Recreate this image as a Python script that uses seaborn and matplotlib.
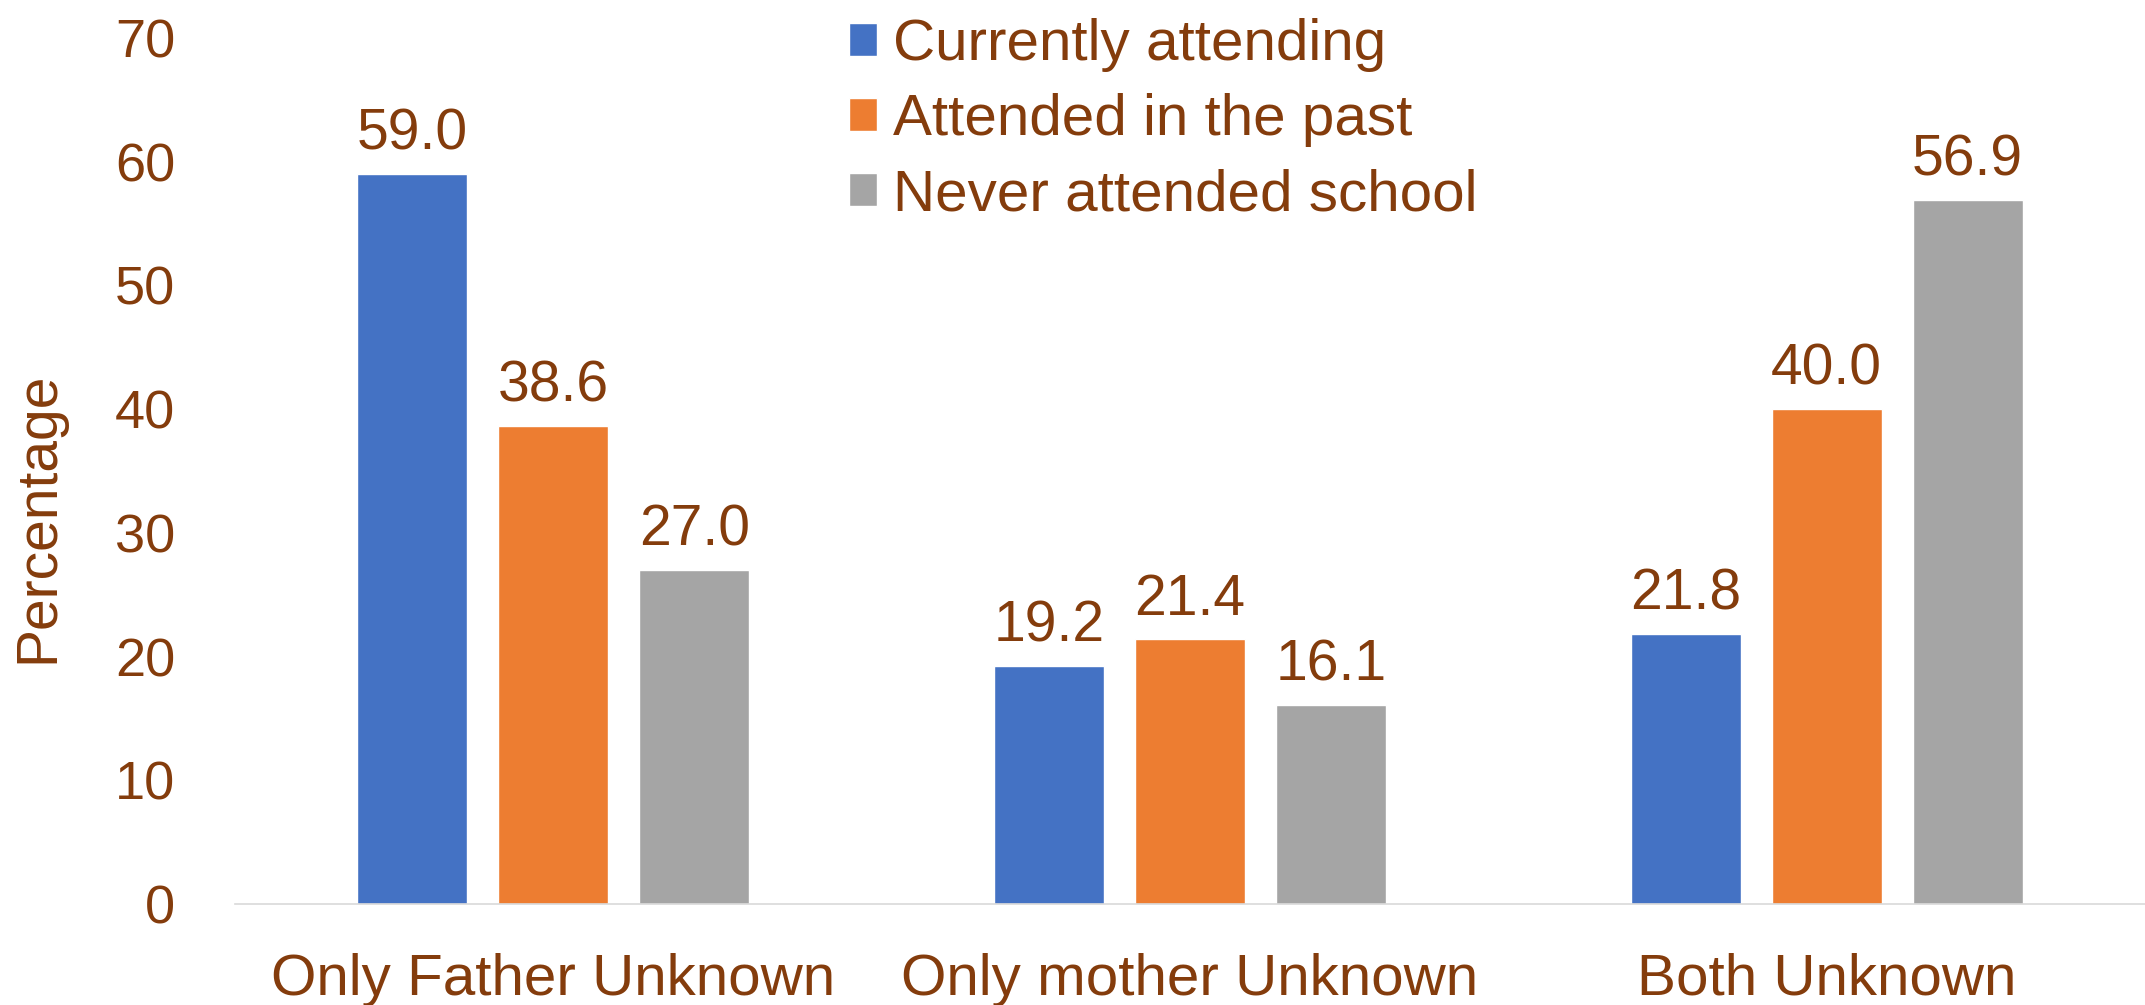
import matplotlib
matplotlib.use("Agg")
import matplotlib.pyplot as plt
import seaborn as sns
import pandas as pd

categories = ["Only Father Unknown", "Only mother Unknown", "Both Unknown"]
series = ["Currently attending", "Attended in the past", "Never attended school"]
currently_attending = [59.0, 19.2, 21.8]
attended_past = [38.6, 21.4, 40.0]
never_attended = [27.0, 16.1, 56.9]
yticks = [0, 10, 20, 30, 40, 50, 60, 70]

colors = ["#4472C4", "#ED7D31", "#A5A5A5"]
text_color = "#843C0C"

rows = []
for s, vals in zip(series, [currently_attending, attended_past, never_attended]):
    for c, v in zip(categories, vals):
        rows.append({"category": c, "series": s, "value": v})
df = pd.DataFrame(rows)

sns.set_theme(style="white")
plt.rcParams["font.family"] = ["Liberation Sans", "DejaVu Sans"]

fig = plt.figure(figsize=(21.45, 10.05), dpi=100)
ax = fig.add_axes([235 / 2145, 1 - 904 / 1005, 1 - 235 / 2145, (904 - 38) / 1005])

sns.barplot(data=df, x="category", y="value", hue="series", order=categories,
            hue_order=series, palette=colors, width=0.664, gap=0.22,
            saturation=1, errorbar=None, ax=ax, legend=True)

for cont in ax.containers:
    ax.bar_label(cont, fmt="%.1f", padding=9, fontsize=41, color=text_color)

ax.set_ylim(0, 70)
ax.set_xlim(-0.5, 2.5)
ax.set_yticks(yticks)
ax.set_yticklabels([str(t) for t in yticks])
ax.tick_params(axis="y", length=0, pad=43, labelsize=39, labelcolor=text_color)
ax.tick_params(axis="x", length=0, pad=35, labelsize=42, labelcolor=text_color)
ax.set_xlabel("")
ax.set_ylabel("Percentage", fontsize=41, color=text_color)
ax.yaxis.label.set_va("center")
ax.yaxis.set_label_coords(-0.103, 0.447)

for side in ["top", "right", "left"]:
    ax.spines[side].set_visible(False)
ax.spines["bottom"].set_color("#D9D9D9")
ax.spines["bottom"].set_linewidth(1.2)

handles, labels = ax.get_legend_handles_labels()
ax.legend(handles, labels, loc="upper left", bbox_to_anchor=(849 / 2145, 0.982),
          bbox_transform=fig.transFigure, frameon=False, fontsize=42,
          labelcolor=text_color, handlelength=0.48, handleheight=0.48,
          handletextpad=0.28, labelspacing=0.36, borderpad=0, borderaxespad=0)

fig.savefig("out.png", dpi=100)
